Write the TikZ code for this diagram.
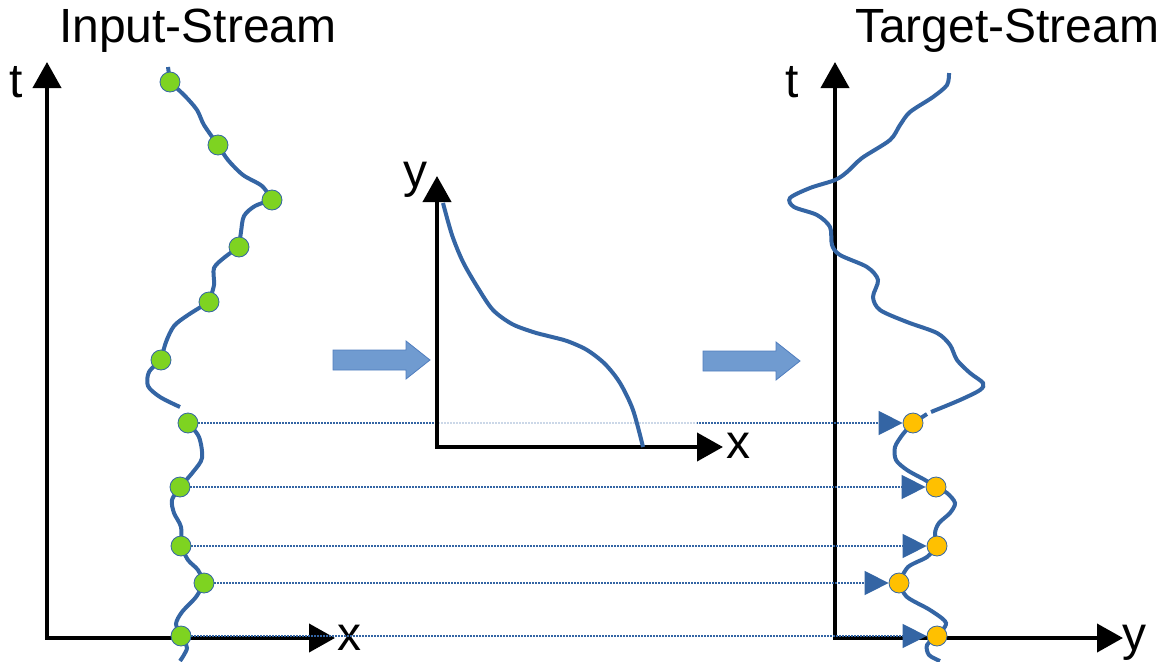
\documentclass[tikz,border=0pt]{standalone}
\usepackage{fontspec}
\setmainfont{Liberation Sans}
\usetikzlibrary{arrows.meta}

\definecolor{curveblue}{RGB}{52,101,164}
\definecolor{dotgreen}{RGB}{126,211,33}
\definecolor{dotorange}{RGB}{255,192,0}
\definecolor{stepblue}{RGB}{112,155,208}
\definecolor{stepedge}{RGB}{80,125,190}

\tikzset{
  axisline/.style={line width=4pt,
    {Triangle[length=26pt,width=28pt]}-{Triangle[length=26pt,width=28pt]}},
  stream/.style={curveblue, line width=4pt},
  sample/.style={circle, draw=curveblue, line width=0.8pt, fill=dotgreen,
    minimum size=20pt, inner sep=0pt},
  result/.style={sample, fill=dotorange},
  link/.style={curveblue, line width=1.5pt, dash pattern=on 1.5pt off 1.5pt,
    -{Triangle[length=24pt,width=24pt]}},
  axlabel/.style={font=\fontsize{48}{54}\selectfont, inner sep=0pt, anchor=base west},
  stepblock/.style={fill=stepblue, draw=stepedge, line width=0.8pt}
}

\begin{document}
\begin{tikzpicture}[x=1pt,y=-1pt]
    \useasboundingbox (0,0) rectangle (1158,661);

    \node[axlabel] (intitle) at (59,42) {Input-Stream};
    \node[axlabel] (outtitle) at (855,42) {Target-Stream};

    % axes of the two streams
    \coordinate (inO) at (47,638);
    \coordinate (inT) at (47,62);
    \coordinate (inX) at (335,638);
    \coordinate (outO) at (835,638);
    \coordinate (outT) at (835,62);
    \coordinate (outY) at (1123,638);
    \draw[axisline] (inT) -- (inO) -- (inX);
    \draw[axisline] (outT) -- (outO) -- (outY);
    \node[axlabel] (int) at (9,97) {t};
    \node[axlabel] (inx) at (337,650) {x};
    \node[axlabel] (outt) at (785,97) {t};
    \node[axlabel] (outy) at (1122,650) {y};

    % input stream
    \draw[stream] (168,67) -- (170,82);
    \draw[stream] plot[smooth] coordinates {(170,82) (185,96) (197,110) (204,125) (218,145)};
    \draw[stream] plot[smooth] coordinates {(218,145) (228,160) (243,175) (262,186) (272,200)};
    \draw[stream] plot[smooth] coordinates {(272,200) (255,206) (244,216) (241,232) (239,247)};
    \draw[stream] plot[smooth] coordinates {(239,247) (225,257) (214,268) (214,285) (209,302)};
    \draw[stream] plot[smooth] coordinates {(209,302) (188,315) (174,326) (166,342) (161,360)};
    \draw[stream] plot[smooth] coordinates {(161,360) (149,372) (148,386) (160,397) (180,407)};
    \draw[stream] plot[smooth] coordinates {(188,423) (199,437) (202,458) (193,472) (180,487)};
    \draw[stream] plot[smooth] coordinates {(180,487) (172,500) (174,513) (181,527) (181,546)};
    \draw[stream] plot[smooth] coordinates {(181,546) (188,560) (198,570) (204,583)};
    \draw[stream] plot[smooth] coordinates {(204,583) (196,597) (182,612) (176,624) (181,636)};
    \draw[stream] plot[smooth] coordinates {(181,636) (187,648) (180,661)};

    % target stream
    \draw[stream] plot[smooth] coordinates {(949,73) (947,85) (933,97) (910,112) (900,125)
      (890,140) (862,158) (847,172) (835,180) (810,188) (790,198) (794,207) (817,215)
      (830,227) (832,245) (840,255) (867,267) (878,280) (873,297) (880,310) (907,322)
      (937,333) (950,345) (957,360) (970,373) (983,383) (980,390) (960,400) (931,412)};
    \draw[stream] (913,423) -- (927,414);
    \draw[stream] plot[smooth] coordinates {(913,423) (903,434) (895,447) (896,460) (907,470) (925,480) (936,487)};
    \draw[stream] plot[smooth] coordinates {(936,487) (947,493) (955,503) (950,513) (939,523) (935,533) (937,546)};
    \draw[stream] plot[smooth] coordinates {(937,546) (927,557) (908,567) (899,583)};
    \draw[stream] plot[smooth] coordinates {(899,583) (907,597) (930,610) (946,623) (937,636)};
    \draw[stream] plot[smooth] coordinates {(937,636) (927,645) (929,655) (940,661)};

    % samples
    \foreach \n/\x/\y in {1/170/82, 2/218/145, 3/272/200, 4/239/247, 5/209/302, 6/161/360,
      7/188/423, 8/180/487, 9/181/546, 10/204/583, 11/181/636}
      \node[sample] (in\n) at (\x,\y) {};
    \foreach \n/\x/\y in {1/913/423, 2/936/487, 3/937/546, 4/899/583, 5/937/636}
      \node[result] (out\n) at (\x,\y) {};

    \foreach \a/\b in {7/1, 8/2, 9/3, 10/4, 11/5}
      \draw[link] (in\a) -- (out\b);

    % mapping x -> y
    \fill[white, fill opacity=0.75] (439,176) rectangle (697,445);
    \coordinate (mapO) at (437,447);
    \coordinate (mapY) at (437,176);
    \coordinate (mapX) at (723,447);
    \draw[axisline] (mapY) -- (mapO) -- (mapX);
    \node[axlabel] (mapy) at (403,187) {y};
    \node[axlabel] (mapx) at (726,458) {x};
    \draw[stream] plot[smooth] coordinates {(443,203) (452,235) (463,262) (478,288) (493,310)
      (512,324) (533,332) (548,336) (567,341) (587,350) (605,364) (620,383) (633,410) (643,447)};

    \draw[stepblock] (333,350) -- (406,350) -- (406,341) -- (430,360) -- (406,379)
      -- (406,370) -- (333,370) -- cycle;
    \draw[stepblock] (703,351) -- (776,351) -- (776,342) -- (800,361) -- (776,380)
      -- (776,371) -- (703,371) -- cycle;
\end{tikzpicture}
\end{document}
